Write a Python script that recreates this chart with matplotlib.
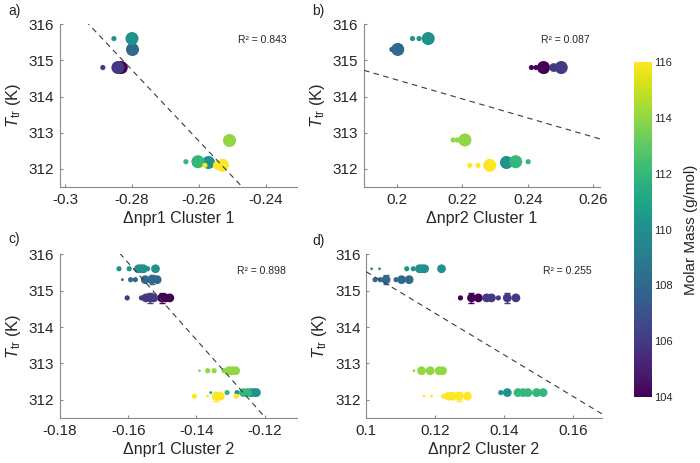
import numpy as np
import matplotlib
matplotlib.use('Agg')
from matplotlib import pyplot as plt
from matplotlib import colors, cm

plt.rcParams['font.family']       = 'Liberation Sans'
plt.rcParams['mathtext.fontset']  = 'custom'
plt.rcParams['mathtext.rm']       = 'Liberation Sans'
plt.rcParams['mathtext.it']       = 'Liberation Sans:italic'
plt.rcParams['axes.unicode_minus'] = False

# =============================================================================
# data

# one entry per compound
masses = [104, 106, 108, 110, 110, 112, 114, 116]
t_tr   = [314.8, 314.8, 315.3, 315.6, 312.2, 312.2, 312.8, 312.1]

# panel a : dnpr1 cluster 1
npr1_c1 = [[-0.2838, -0.2832], [-0.2887, -0.2842], [-0.2800], [-0.2854, -0.2800],
           [-0.2573], [-0.2639, -0.2603], [-0.2510], [-0.2582, -0.2545, -0.2530]]
npr1_c1_n = [[2, 3], [1, 3], [3], [1, 3], [3], [1, 3], [3], [1, 2, 3]]

# panel b : dnpr2 cluster 1
npr2_c1 = [[0.2411, 0.2425, 0.2448], [0.2479, 0.2502], [0.1985, 0.2003],
           [0.2048, 0.2068, 0.2096], [0.2333], [0.2363, 0.2401],
           [0.2172, 0.2185, 0.2208], [0.2223, 0.2248, 0.2284]]
npr2_c1_n = [[1, 1, 3], [2, 3], [1, 3], [1, 1, 3], [3], [3, 1], [1, 1, 3], [1, 1, 3]]

# panel c : dnpr1 cluster 2
npr1_c2 = [[-0.1502, -0.1490, -0.1478],
           [-0.1603, -0.1561, -0.1548, -0.1535, -0.1525],
           [-0.1617, -0.1593, -0.1579, -0.1550, -0.1531, -0.1515],
           [-0.1627, -0.1597, -0.1570, -0.1562, -0.1555, -0.1543, -0.1520],
           [-0.1358, -0.1281, -0.1240, -0.1230, -0.1224],
           [-0.1310, -0.1262, -0.1250],
           [-0.1391, -0.1367, -0.1348, -0.1319, -0.1305, -0.1295, -0.1285],
           [-0.1406, -0.1367, -0.1342, -0.1330, -0.1283]]
npr1_c2_n = [[2, 2, 2], [1, 1, 2, 2, 2], [0, 1, 1, 2, 2, 2], [1, 1, 2, 2, 2, 1, 2],
             [0, 1, 2, 2, 2], [1, 2, 2], [0, 1, 1, 1, 2, 2, 2], [1, 0, 2, 2, 1]]

# panel d : dnpr2 cluster 2
npr2_c2 = [[0.1274, 0.1306, 0.1326],
           [0.1350, 0.1364, 0.1384, 0.1410, 0.1435],
           [0.1026, 0.1041, 0.1058, 0.1087, 0.1103, 0.1125],
           [0.1016, 0.1039, 0.1118, 0.1137, 0.1155, 0.1163, 0.1170, 0.1219],
           [0.1391, 0.1410],
           [0.1441, 0.1456, 0.1470, 0.1495, 0.1505, 0.1514],
           [0.1139, 0.1161, 0.1186, 0.1212, 0.1222],
           [0.1168, 0.1190, 0.1225, 0.1240, 0.1252, 0.1270, 0.1294]]
npr2_c2_n = [[1, 2, 2], [2, 2, 1, 2, 2], [1, 1, 2, 1, 2, 2], [0, 0, 1, 1, 2, 2, 2, 2],
             [1, 2], [2, 2, 2, 2, 1, 2], [0, 2, 2, 2, 2], [0, 0, 1, 2, 2, 2, 2]]

# points carrying an error bar : (compound, point)
err_pts = [[], [(0, 2)], [(0, 0), (1, 3), (2, 4), (7, 2)], [(0, 1), (1, 3), (2, 2), (7, 5)]]
t_err   = 0.13

# linear fits
fit_slope = [-98.0, -26.3, -105.7, -57.0]
fit_icpt  = [287.29, 319.72, 298.85, 321.22]
r2        = ['0.843', '0.087', '0.898', '0.255']

xlabels = ['\u0394npr1 Cluster 1', '\u0394npr2 Cluster 1', '\u0394npr1 Cluster 2', '\u0394npr2 Cluster 2']
xlims   = [(-0.3015, -0.2307), (0.19, 0.262), (-0.18, -0.1105), (0.1, 0.1685)]
xticks  = [[-0.3, -0.28, -0.26, -0.24], [0.2, 0.22, 0.24, 0.26],
           [-0.18, -0.16, -0.14, -0.12], [0.1, 0.12, 0.14, 0.16]]
xtlabs  = [['-0.3', '-0.28', '-0.26', '-0.24'], ['0.2', '0.22', '0.24', '0.26'],
           ['-0.18', '-0.16', '-0.14', '-0.12'], ['0.1', '0.12', '0.14', '0.16']]
tags    = ['a)', 'b)', 'c)', 'd)']

# =============================================================================

AREA  = [4, 14, 40, 88]
GREY  = '#8a8a8a'
TEXT  = '#262626'

norm = colors.Normalize(vmin=104, vmax=116)
cmap = plt.get_cmap('viridis')

fig = plt.figure(figsize=(7.0, 4.63), dpi=100)

boxes = [[0.0857, 0.596, 0.3386, 0.352], [0.520, 0.596, 0.337, 0.352],
         [0.0857, 0.097, 0.3386, 0.354], [0.523, 0.097, 0.337, 0.354]]
tagpos = [(0.012, 0.992), (0.446, 0.992), (0.012, 0.5), (0.446, 0.494)]

xs_all = [npr1_c1, npr2_c1, npr1_c2, npr2_c2]
ns_all = [npr1_c1_n, npr2_c1_n, npr1_c2_n, npr2_c2_n]

for p in range(4):
	ax = fig.add_axes(boxes[p])
	for s in ['top', 'right']:
		ax.spines[s].set_visible(False)
	for s in ['left', 'bottom']:
		ax.spines[s].set_color(GREY)
		ax.spines[s].set_linewidth(0.8)

	for k in range(len(masses)):
		x = np.array(xs_all[p][k])
		y = np.full(len(x), t_tr[k])
		sz = [AREA[n] for n in ns_all[p][k]]
		ax.scatter(x, y, s=sz, color=cmap(norm(masses[k])), linewidths=0, zorder=2)

	for (k, i) in err_pts[p]:
		ax.errorbar(xs_all[p][k][i], t_tr[k], yerr=t_err, fmt='none',
		            ecolor=cmap(norm(masses[k])), elinewidth=1.0, capsize=2.5, zorder=3)

	lx = np.array(xlims[p])
	ax.plot(lx, fit_slope[p]*lx + fit_icpt[p], color='#3a3a3a', linestyle=(0, (5, 4)),
	        linewidth=0.8, zorder=4)

	ax.text(0.955, 0.9, 'R\u00b2 = ' + r2[p], transform=ax.transAxes, ha='right', va='center',
	        fontsize=7.5, color=TEXT)

	ax.set_xlim(xlims[p])
	ax.set_ylim(311.5, 316)
	ax.set_xticks(xticks[p])
	ax.set_xticklabels(xtlabs[p])
	ax.set_yticks([312, 313, 314, 315, 316])
	ax.tick_params(direction='in', length=2.5, color=GREY, labelsize=11, labelcolor=TEXT, pad=4)
	ax.set_xlabel(xlabels[p], fontsize=11.5, color=TEXT, labelpad=3)
	ax.set_ylabel(r'$\mathit{T}_{\mathrm{tr}}$ (K)', fontsize=12, color=TEXT, labelpad=4)

	fig.text(tagpos[p][0], tagpos[p][1], tags[p], fontsize=10, color=TEXT, va='top')

cax = fig.add_axes([0.906, 0.1425, 0.026, 0.7235])
sm  = cm.ScalarMappable(norm=norm, cmap=cmap)
cb  = fig.colorbar(sm, cax=cax, ticks=[104, 106, 108, 110, 112, 114, 116])
cb.outline.set_visible(False)
cb.ax.tick_params(length=0, labelsize=8, labelcolor=TEXT, pad=1)
cb.set_label('Molar Mass (g/mol)', fontsize=11, color=TEXT, labelpad=8)

plt.savefig('out.png', dpi=100)
